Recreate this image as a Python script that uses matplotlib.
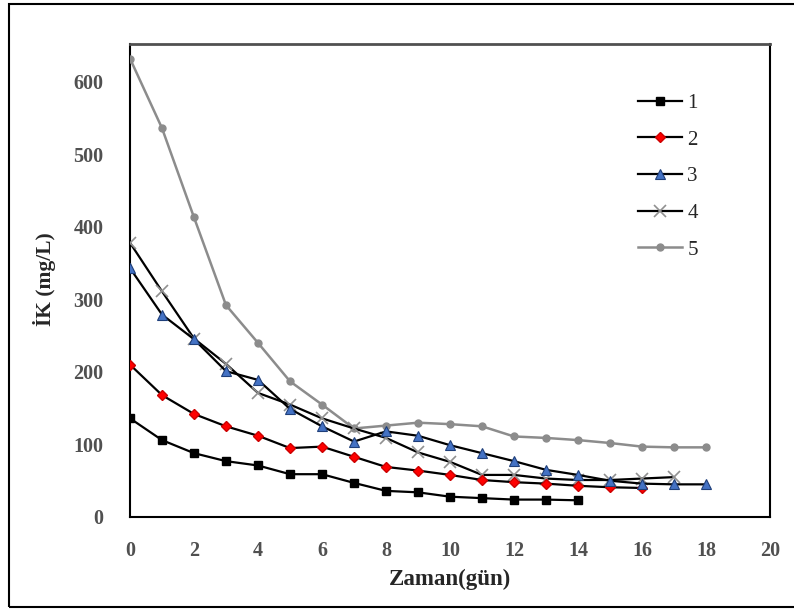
import matplotlib
matplotlib.use("Agg")
import matplotlib.pyplot as plt
from matplotlib.patches import Rectangle

days = list(range(0, 19))
s1 = [136, 106, 88, 77, 71, 59, 59, 47, 36, 34, 28, 26, 24, 24, 23]
s2 = [210, 168, 142, 125, 112, 95, 97, 83, 69, 64, 58, 51, 48, 46, 43, 41, 40]
s3 = [343, 279, 245, 201, 189, 149, 125, 104, 118, 112, 99, 88, 77, 65, 58, 50, 46, 45, 45]
s4 = [378, 311, 246, 211, 171, 155, 136, 122, 109, 89, 76, 58, 58, 53, 51, 51, 53, 55]
s5 = [632, 536, 413, 292, 240, 187, 155, 122, 126, 130, 128, 125, 111, 109, 106, 102, 97, 96, 96]
labels = ["1", "2", "3", "4", "5"]
xticks = list(range(0, 21, 2))
yticks = list(range(0, 601, 100))

plt.rcParams['font.family'] = ['Liberation Serif', 'DejaVu Serif']

fig = plt.figure(figsize=(7.94, 6.10), dpi=100)
W, H = 794, 610
ax = fig.add_axes([130 / W, 1 - 517 / H, (770 - 130) / W, (517 - 44) / H])

# outer frame
fig.patches.append(Rectangle((9 / W, 1 - 607 / H), 1.2, (607 - 4) / H,
                             transform=fig.transFigure, fill=False,
                             edgecolor='black', lw=1.5, zorder=0))

ax.plot(days[:len(s1)], s1, color='black', lw=1.6, marker='s', ms=5.5,
        mfc='black', mec='black', label=labels[0], zorder=5)
ax.plot(days[:len(s2)], s2, color='black', lw=1.6, marker='D', ms=5.5,
        mfc='#ff0000', mec='#cc0000', label=labels[1], zorder=5)
ax.plot(days[:len(s3)], s3, color='black', lw=1.6, marker='^', ms=7,
        mfc='#4472c4', mec='#1f3f7a', mew=0.8, label=labels[2], zorder=5)
ax.plot(days[:len(s4)], s4, color='black', lw=1.6, marker='x', ms=8,
        mec='#909090', mew=1.2, label=labels[3], zorder=4)
ax.plot(days[:len(s5)], s5, color='#8c8c8c', lw=1.8, marker='o', ms=5,
        mfc='#8c8c8c', mec='#8c8c8c', label=labels[4], zorder=3)

ax.set_xlim(0, 20)
ax.set_ylim(0, 652)
ax.set_xticks(xticks)
ax.set_yticks(yticks)
ax.tick_params(length=0, labelsize=14.5, labelcolor='#505050')
ax.tick_params(axis='x', pad=17)
ax.tick_params(axis='y', pad=19)
for lab in ax.get_xticklabels() + ax.get_yticklabels():
    lab.set_fontweight('bold')

for sp in ax.spines.values():
    sp.set_color('black')
    sp.set_linewidth(1.5)
ax.spines['top'].set_color('#505050')
ax.spines['top'].set_linewidth(2.0)

fig.text(450 / W, 1 - 579 / H, "Zaman(gün)", ha='center', va='center',
         fontsize=16.5, fontweight='bold', color='#262626')
fig.text(44 / W, 1 - 279 / H, "İK (mg/L)", ha='center', va='center',
         rotation=90, fontsize=15.5, fontweight='bold', color='#262626')

leg = ax.legend(loc='upper left', bbox_to_anchor=(0.765, 0.935), frameon=False,
                fontsize=15, handlelength=2.1, handletextpad=0.25,
                labelspacing=0.82, labelcolor='#262626')

fig.savefig("out.png", dpi=100)
